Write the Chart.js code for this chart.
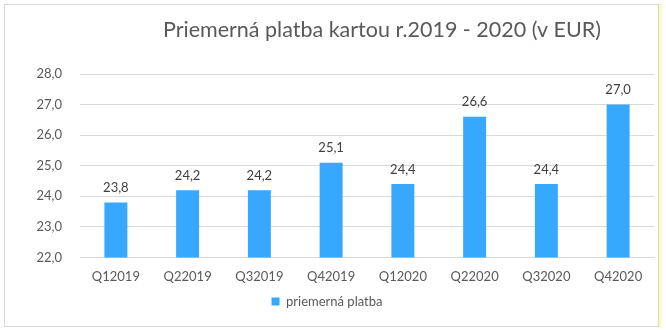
<!DOCTYPE html>
<html>
<head>
<meta charset="utf-8">
<script src="https://cdn.jsdelivr.net/npm/chart.js@4.4.1/dist/chart.umd.min.js"></script>
<style>
  html, body { margin: 0; padding: 0; background: #fff; }
  #wrap { position: relative; width: 666px; height: 330px; }
  #frame {
    position: absolute; left: 4px; top: 4px; width: 653px; height: 321px;
    border: 1px solid #d9d9d9; box-shadow: 2px 0 0 #ffff99; pointer-events: none;
  }
</style>
</head>
<body>
<div id="wrap">
  <canvas id="chart" width="666" height="330"></canvas>
  <div id="frame"></div>
</div>
<script>
const quarters = ['Q12019', 'Q22019', 'Q32019', 'Q42019', 'Q12020', 'Q22020', 'Q32020', 'Q42020'];
const avgPayment = [23.8, 24.2, 24.2, 25.1, 24.4, 26.6, 24.4, 27.0];
const seriesName = 'priemerná platba';
const chartTitle = 'Priemerná platba kartou r.2019 - 2020 (v EUR)';

const FONT = 'Lato, "Open Sans", sans-serif';
const fmt = v => v.toFixed(1).replace('.', ',');

// title sits right of centre, drawn by hand
const titlePlugin = {
  id: 'offsetTitle',
  afterDraw(chart) {
    const ctx = chart.ctx;
    ctx.save();
    ctx.font = '21.5px ' + FONT;
    ctx.fillStyle = '#595959';
    ctx.textAlign = 'center';
    ctx.textBaseline = 'middle';
    ctx.fillText(chartTitle, 382, 30);
    ctx.restore();
  }
};

// value labels above each bar
const valueLabels = {
  id: 'valueLabels',
  afterDatasetsDraw(chart) {
    const ctx = chart.ctx;
    ctx.save();
    ctx.font = '13px ' + FONT;
    ctx.fillStyle = '#404040';
    ctx.textAlign = 'center';
    ctx.textBaseline = 'bottom';
    chart.getDatasetMeta(0).data.forEach((bar, i) => {
      ctx.fillText(fmt(avgPayment[i]), bar.x, bar.y - 8);
    });
    ctx.restore();
  }
};

new Chart(document.getElementById('chart'), {
  type: 'bar',
  data: {
    labels: quarters,
    datasets: [{
      label: seriesName,
      data: avgPayment,
      backgroundColor: '#36a9ff',
      categoryPercentage: 1,
      barPercentage: 0.32
    }]
  },
  options: {
    responsive: false,
    animation: false,
    layout: { padding: { top: 74, right: 12, left: 0, bottom: 12 } },
    scales: {
      x: {
        afterFit: s => { s.height += 5; },
        grid: { display: false },
        border: { color: '#d9d9d9' },
        ticks: { color: '#595959', font: { family: FONT, size: 13 }, padding: 4 }
      },
      y: {
        min: 22,
        max: 28,
        afterFit: s => { s.width = 80; },
        border: { display: false },
        grid: { color: '#d9d9d9', drawTicks: false },
        ticks: {
          stepSize: 1,
          padding: 18,
          color: '#595959',
          font: { family: FONT, size: 13 },
          callback: v => fmt(v)
        }
      }
    },
    plugins: {
      title: { display: false },
      tooltip: { enabled: false },
      legend: {
        position: 'bottom',
        labels: {
          boxWidth: 8,
          boxHeight: 8,
          padding: 1,
          color: '#595959',
          font: { family: FONT, size: 13 }
        }
      }
    }
  },
  plugins: [titlePlugin, valueLabels]
});
</script>
</body>
</html>
